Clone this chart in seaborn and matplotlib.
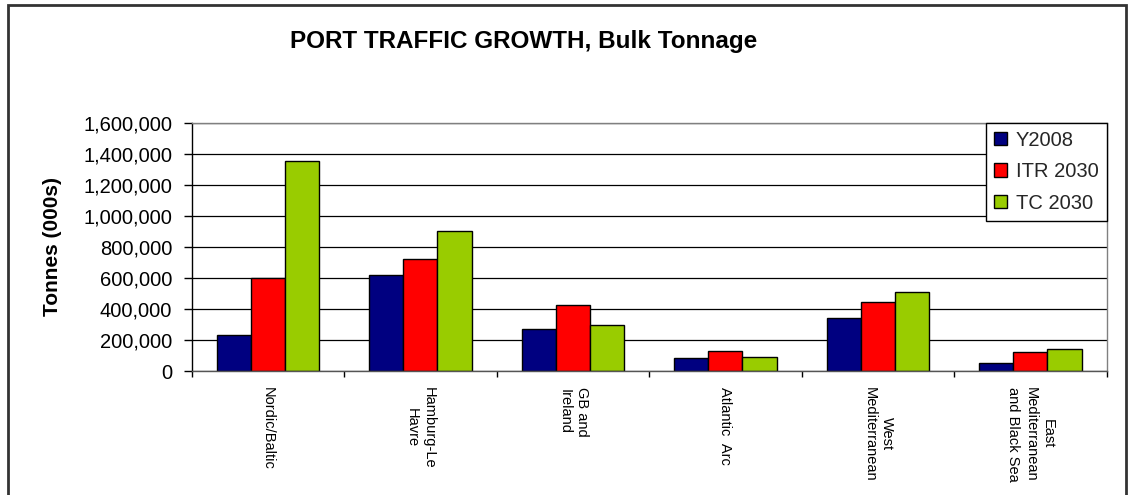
import matplotlib
matplotlib.use("Agg")
import matplotlib.pyplot as plt
import matplotlib.ticker as mticker
from matplotlib.patches import Rectangle
import seaborn as sns
import pandas as pd

# Bulk tonnage by port range (thousand tonnes)
regions = ["Nordic/Baltic", "Hamburg-Le\nHavre", "GB and\nIreland", "Atlantic  Arc",
           "West\nMediterranean", "East\nMediterranean\nand Black Sea"]
series = ["Y2008", "ITR 2030", "TC 2030"]
y2008 = [235000, 620000, 272000, 86000, 341000, 53000]
itr2030 = [600000, 725000, 428000, 132000, 446000, 122000]
tc2030 = [1355000, 900000, 296000, 94000, 508000, 141000]
colors = ["#000080", "#FF0000", "#99CC00"]
yticks = list(range(0, 1600001, 200000))

rows = []
for name, vals in zip(series, [y2008, itr2030, tc2030]):
    for reg, v in zip(regions, vals):
        rows.append({"region": reg, "series": name, "tonnes": v})
df = pd.DataFrame(rows)

sns.set_style("white")
plt.rcParams["font.family"] = ["Liberation Sans", "DejaVu Sans"]

fig = plt.figure(figsize=(11.3, 4.95), dpi=100)
fig.patch.set_facecolor("white")
ax = fig.add_axes([191.7 / 1130, 1 - 371.3 / 495, (1106.7 - 191.7) / 1130, (371.3 - 122.7) / 495])

sns.barplot(data=df, x="region", y="tonnes", hue="series", order=regions,
            hue_order=series, palette=colors, saturation=1, width=0.67,
            edgecolor="black", linewidth=1, ax=ax)

ax.set_xlim(-0.5, len(regions) - 0.5)
ax.set_ylim(0, 1600000)
ax.set_yticks(yticks)
ax.yaxis.set_major_formatter(mticker.FuncFormatter(lambda v, p: f"{v:,.0f}"))
ax.tick_params(axis="y", direction="out", length=6, width=1, color="black",
               labelsize=14.5, pad=8, left=True, labelcolor="black")
ax.yaxis.grid(True, color="black", linewidth=0.9)
ax.set_axisbelow(True)

# category labels centred, tick marks at category boundaries
ax.set_xticks(range(len(regions)))
ax.set_xticklabels(regions, rotation=-90, fontsize=10.5, ha="center", va="top",
                   multialignment="center", linespacing=1.3, color="black")
ax.tick_params(axis="x", which="major", length=0, pad=11)
ax.set_xticks([i - 0.5 for i in range(len(regions) + 1)], minor=True)
ax.tick_params(axis="x", which="minor", direction="out", length=4, width=1,
               color="black", bottom=True)

ax.set_xlabel("")
ax.set_ylabel("")
for side in ["top", "right"]:
    ax.spines[side].set_visible(True)
    ax.spines[side].set_color("#808080")
    ax.spines[side].set_linewidth(1)
ax.spines["left"].set_color("black")
ax.spines["left"].set_linewidth(1)
ax.spines["bottom"].set_color("#555555")
ax.spines["bottom"].set_linewidth(1)

handles, labels = ax.get_legend_handles_labels()
leg = ax.legend(handles, labels, loc="upper right", bbox_to_anchor=(1, 1),
                borderaxespad=0, fontsize=14.5, frameon=True, fancybox=False,
                handlelength=0.65, handleheight=0.65, handletextpad=0.45,
                labelspacing=0.62, borderpad=0.4)
leg.get_frame().set_edgecolor("black")
leg.get_frame().set_linewidth(1)
leg.get_frame().set_facecolor("white")
leg.get_frame().set_alpha(1)

fig.text(523.5 / 1130, 1 - 48 / 495, "PORT TRAFFIC GROWTH, Bulk Tonnage",
         ha="center", va="baseline", fontsize=17.5, fontweight="bold", color="black")
fig.text(53 / 1130, 1 - 246 / 495, "Tonnes (000s)", rotation=90,
         ha="center", va="center", fontsize=15, fontweight="bold", color="black")

# chart border
fig.patches.append(Rectangle((8 / 1130, -0.02), (1125.7 - 8) / 1130, 1.02 - 5 / 495,
                             transform=fig.transFigure, fill=False,
                             edgecolor="#333333", linewidth=2))

fig.savefig("out.png", dpi=100, facecolor="white")
